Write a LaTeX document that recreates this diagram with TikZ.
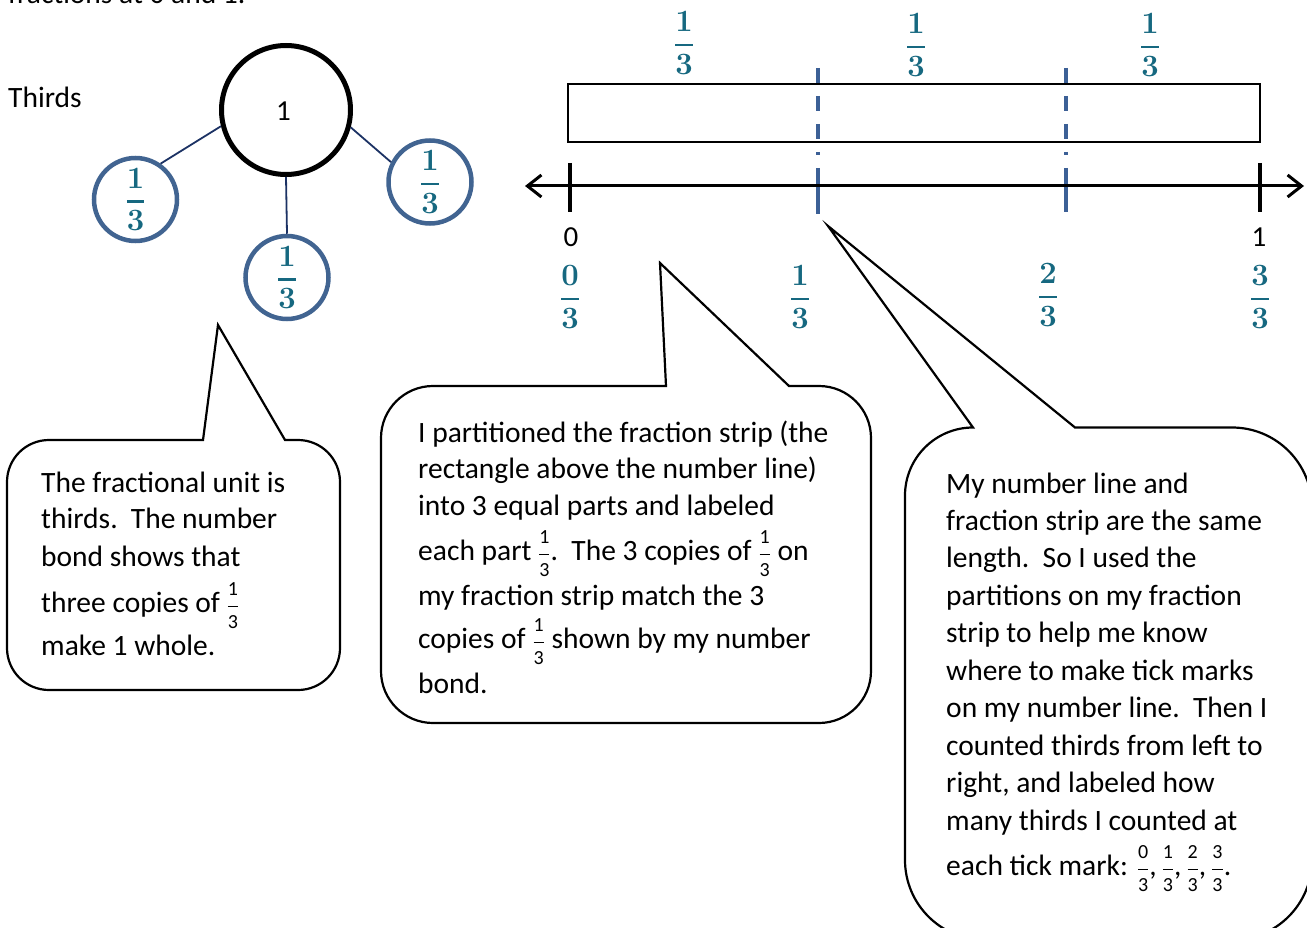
\RequirePackage{fix-cm}
\documentclass[tikz,border=0pt]{standalone}
\usepackage{amsmath}
\usepackage[no-math]{fontspec}
\setmainfont{Carlito}
\usetikzlibrary{arrows.meta}

\definecolor{fracteal}{RGB}{22,104,128}
\definecolor{bondblue}{RGB}{65,100,145}
\definecolor{partblue}{RGB}{60,96,150}
\definecolor{linknavy}{RGB}{28,50,100}

% large bold fraction (number bond, strip and number line labels)
\newcommand{\bfr}[2]{$\displaystyle\genfrac{}{}{2.6pt}{}{\mathbf{#1}}{\mathbf{#2}}$}
% small fraction inside running text
\newcommand{\sfr}[2]{{\fontsize{24}{24}\selectfont$\displaystyle\genfrac{}{}{0.9pt}{}{\mbox{\fontsize{20}{20}\selectfont #1}}{\mbox{\fontsize{20}{20}\selectfont #2}}$}}

\begin{document}
\begin{tikzpicture}[x=1pt,y=-1pt,
  txt/.style={anchor=base west, inner sep=0pt, font=\fontsize{29.5}{34}\selectfont},
  whole/.style={circle, draw=black, line width=5pt, minimum size=129pt, inner sep=0pt},
  bond/.style={circle, draw=bondblue, line width=4.5pt, minimum size=83pt, inner sep=0pt, text=fracteal, font=\fontsize{31}{31}\selectfont},
  bondlink/.style={draw=linknavy, line width=1.8pt},
  bigfrac/.style={inner sep=0pt, text=fracteal, font=\fontsize{31}{31}\selectfont},
  numlab/.style={inner sep=0pt, font=\fontsize{29}{29}\selectfont},
  speech/.style={draw=black, line width=2.2pt, line join=miter},
  partline/.style={draw=partblue, line width=3.8pt},
  tickmark/.style={draw=black, line width=3.5pt},
  numberline/.style={line width=3pt, >={Straight Barb[length=14pt,width=22pt]}, <->}
]
\useasboundingbox (0,0) rectangle (1307,928);

% heading remnant and title
\node[txt] (heading) at (8,4) {fractions at 0 and 1.};
\node[txt] (thirds) at (8,108) {Thirds};

% number bond
\node[whole] (w) at (286,110) {};
\node[numlab] (wlab) at (283.5,111) {1};
\node[bond] (p1) at (135.5,199.5) {\bfr{1}{3}};
\node[bond] (p2) at (287,277.5) {\bfr{1}{3}};
\node[bond] (p3) at (430,182) {\bfr{1}{3}};
\draw[bondlink] (w.194.6) -- (p1.55);
\draw[bondlink] (w.south) -- (p2.north);
\draw[bondlink] (w.-15.8) -- (p3.153.6);

% fraction strip
\draw[line width=1.5pt] (568,84) rectangle (1260,142);
\node[bigfrac] (s1) at (684,43) {\bfr{1}{3}};
\node[bigfrac] (s2) at (916,45) {\bfr{1}{3}};
\node[bigfrac] (s3) at (1150,45) {\bfr{1}{3}};

% partitions carried down to the number line
\draw[partline, dash pattern=on 15pt off 13pt] (818,68) -- (818,155);
\draw[partline, dash pattern=on 15pt off 13pt] (1066,68) -- (1066,155);
\draw[partline] (818,168) -- (818,214);
\draw[partline] (1066,168) -- (1066,212);

% number line
\coordinate (nlL) at (525,186);
\coordinate (nlR) at (1304,186);
\draw[numberline] (nlL) -- (nlR);
\draw[tickmark] (570,163) -- (570,212);
\draw[tickmark] (1260,163) -- (1260,212);
\node[numlab] (n0) at (571,237.5) {0};
\node[numlab] (n1) at (1259,237.5) {1};
\node[bigfrac] (f0) at (570,297) {\bfr{0}{3}};
\node[bigfrac] (f1) at (800,297) {\bfr{1}{3}};
\node[bigfrac] (f2) at (1048,295) {\bfr{2}{3}};
\node[bigfrac] (f3) at (1260,297) {\bfr{3}{3}};

% speech bubbles
\draw[speech] (203,440) -- (218,325) -- (285,440) -- (298,440)
  .. controls (321.2,440) and (340,458.8) .. (340,482) -- (340,648)
  .. controls (340,671.2) and (321.2,690) .. (298,690) -- (49,690)
  .. controls (25.8,690) and (7,671.2) .. (7,648) -- (7,482)
  .. controls (7,458.8) and (25.8,440) .. (49,440) -- cycle;

\draw[speech] (666,386) -- (660,263) -- (789,386) -- (819,386)
  .. controls (847.7,386) and (871,409.3) .. (871,438) -- (871,671)
  .. controls (871,699.7) and (847.7,723) .. (819,723) -- (433,723)
  .. controls (404.3,723) and (381,699.7) .. (381,671) -- (381,438)
  .. controls (381,409.3) and (404.3,386) .. (433,386) -- cycle;

\draw[speech] (973,427.5) -- (828,226) -- (1075,427.5) -- (1232,427.5)
  .. controls (1276.2,427.5) and (1312,463.3) .. (1312,507.5) -- (1312,860)
  .. controls (1312,904.2) and (1276.2,940) .. (1232,940) -- (985,940)
  .. controls (940.8,940) and (905,904.2) .. (905,860) -- (905,495.5)
  .. controls (905,458) and (935.5,427.5) .. (973,427.5) -- cycle;

% bubble texts
\node[txt] (l1) at (41,492) {The fractional unit is};
\node[txt] (l2) at (41,528) {thirds.\ \ The number};
\node[txt] (l3) at (41,566) {bond shows that};
\node[txt] (l4) at (41,612) {three copies of \sfr{1}{3}};
\node[txt] (l5) at (41,655) {make 1 whole.};

\node[txt] (m1) at (418,442) {I partitioned the fraction strip (the};
\node[txt] (m2) at (418,478) {rectangle above the number line)};
\node[txt] (m3) at (418,515) {into 3 equal parts and labeled};
\node[txt] (m4) at (418,560) {each part \sfr{1}{3}.\ \ The 3 copies of \sfr{1}{3} on};
\node[txt] (m5) at (418,605) {my fraction strip match the 3};
\node[txt] (m6) at (418,648) {copies of \sfr{1}{3} shown by my number};
\node[txt] (m7) at (418,693) {bond.};

\node[txt] (r1) at (946,493) {My number line and};
\node[txt] (r2) at (946,530) {fraction strip are the same};
\node[txt] (r3) at (946,567) {length.\ \ So I used the};
\node[txt] (r4) at (946,605) {partitions on my fraction};
\node[txt] (r5) at (946,642) {strip to help me know};
\node[txt] (r6) at (946,680) {where to make tick marks};
\node[txt] (r7) at (946,717) {on my number line.\ \ Then I};
\node[txt] (r8) at (946,755) {counted thirds from left to};
\node[txt] (r9) at (946,792) {right, and labeled how};
\node[txt] (r10) at (946,830) {many thirds I counted at};
\node[txt] (r11) at (946,875) {each tick mark: \sfr{0}{3},\,\sfr{1}{3},\,\sfr{2}{3},\,\sfr{3}{3}.};
\end{tikzpicture}
\end{document}
